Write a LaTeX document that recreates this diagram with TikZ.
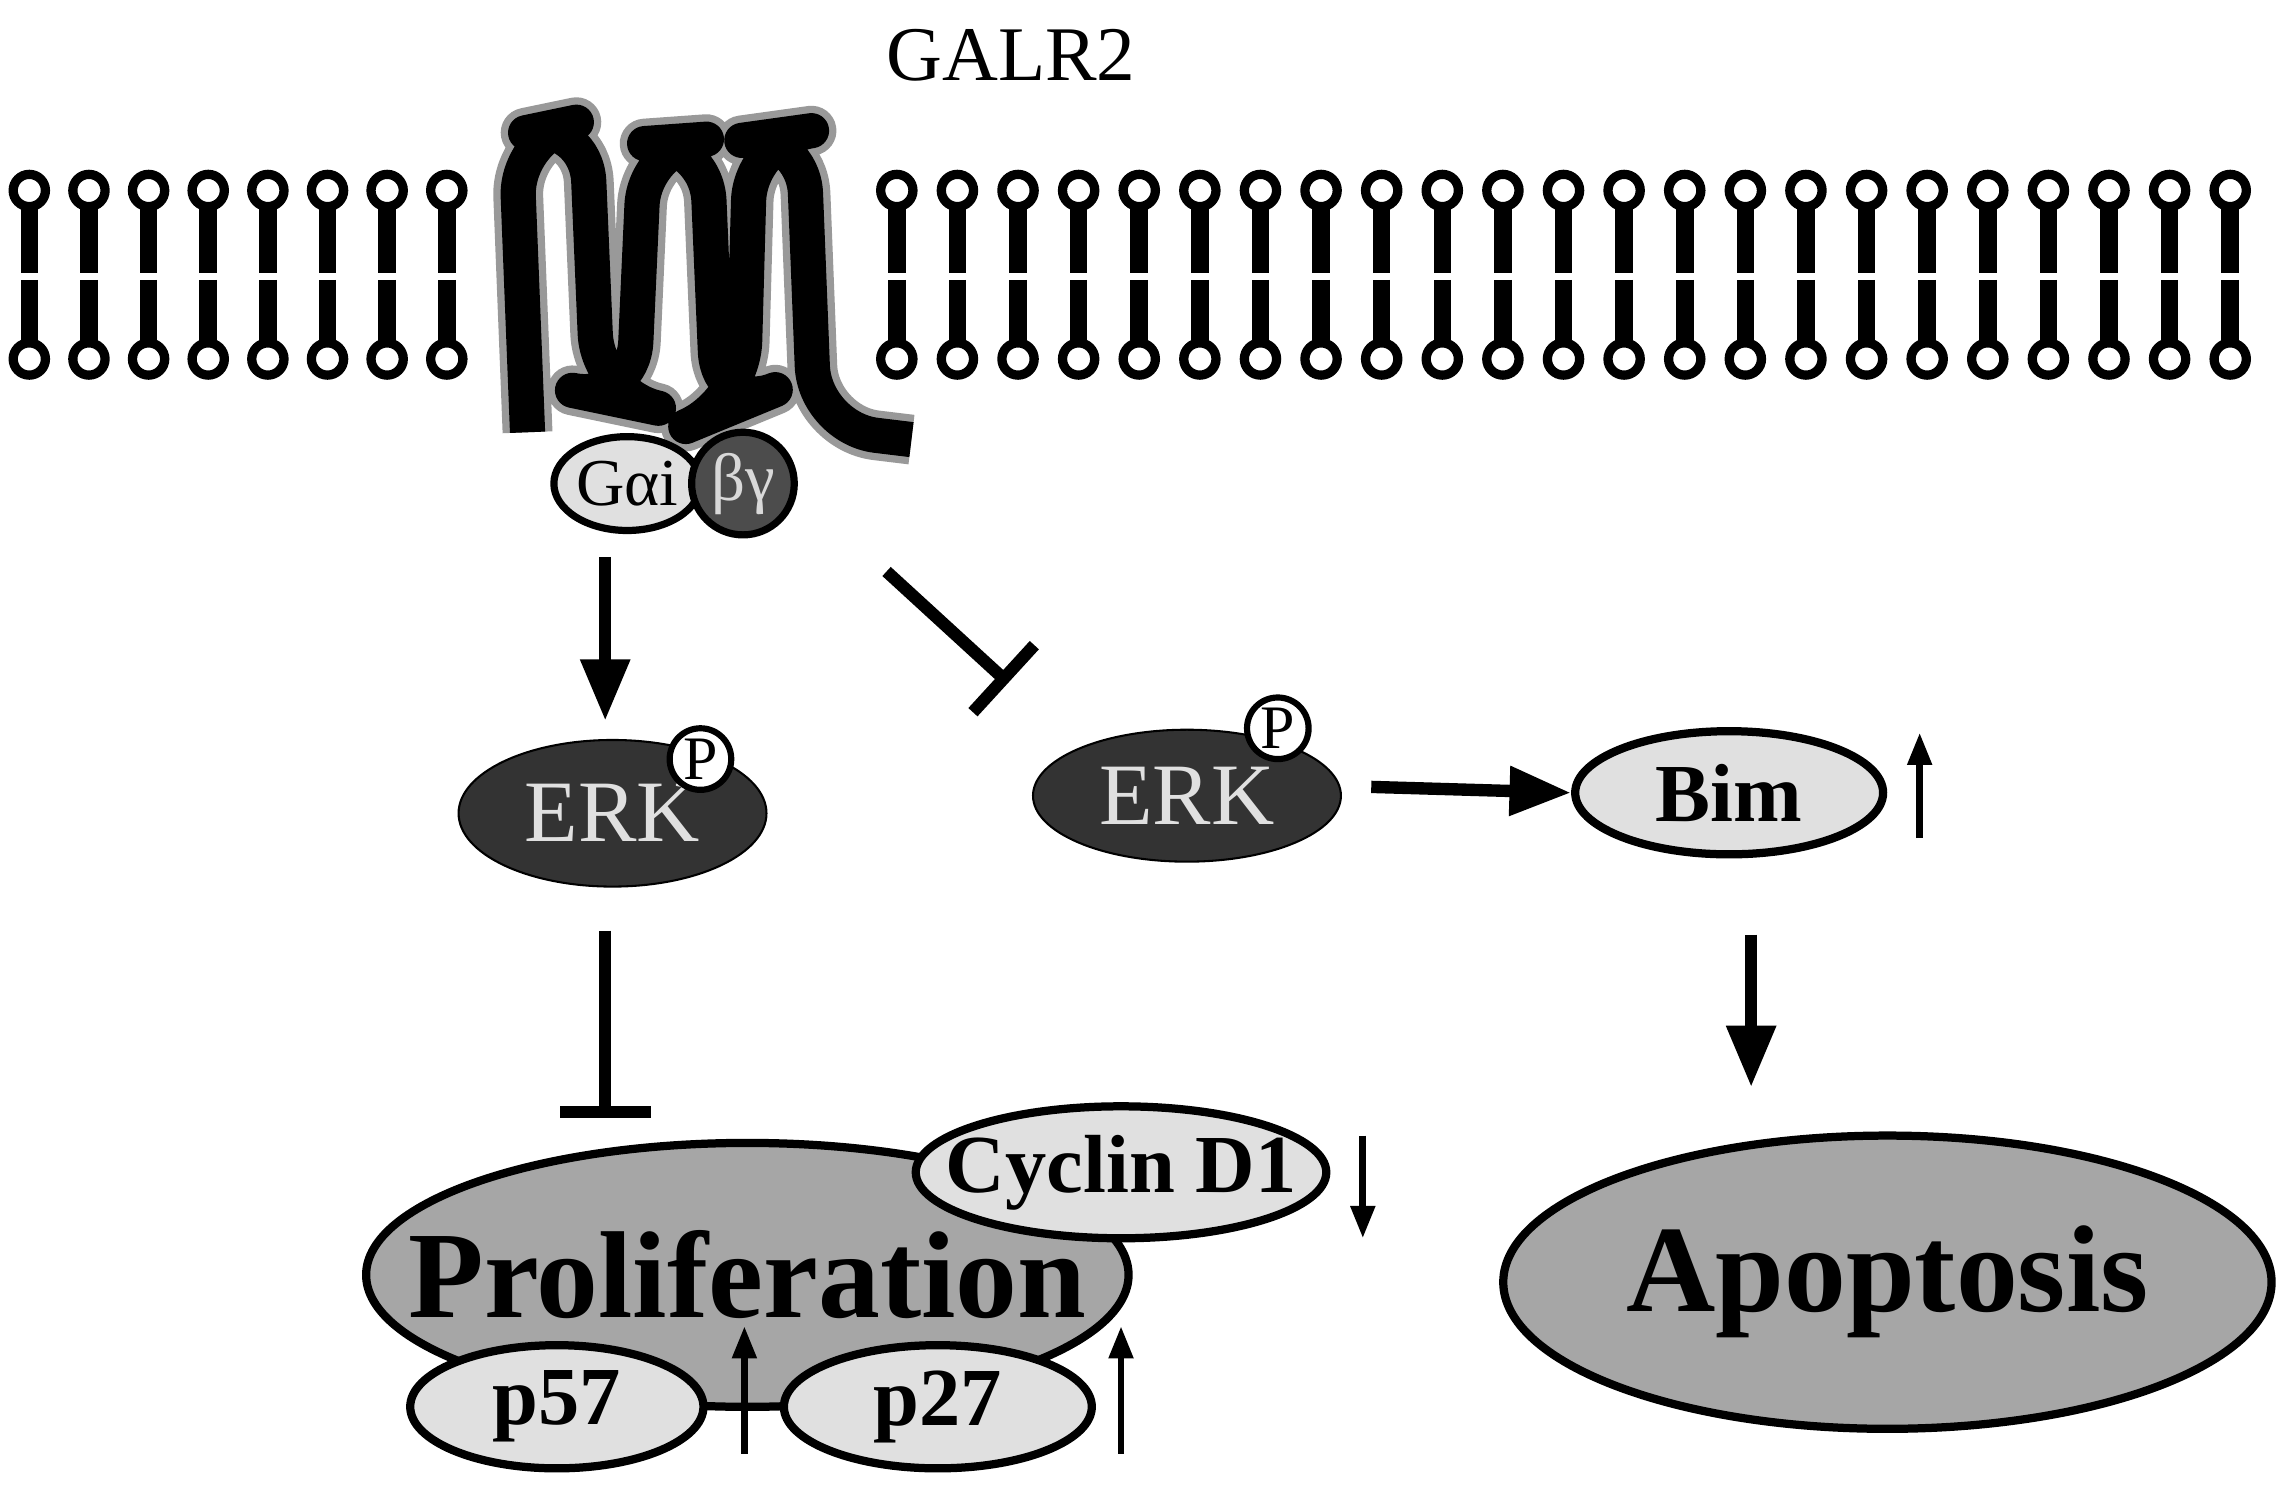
\documentclass[tikz,border=0pt]{standalone}
\usepackage{fontspec}
\setmainfont{Liberation Serif}
\usetikzlibrary{arrows.meta, shapes.geometric}
\begin{document}
\begin{tikzpicture}[x=0.01cm, y=-0.01cm,
    % Global styles
    head/.style={circle, draw=black, line width=1.8pt, fill=white, inner sep=0pt, minimum size=0.22cm},
    tail/.style={line width=3.4pt, black},
    erk/.style={ellipse, draw=black, fill=black!80, text=black!12, inner xsep=-0.2cm, inner ysep=0pt, font=\fontsize{17}{17}\selectfont},
    phos/.style={circle, draw=black, line width=1.2pt, fill=white, inner sep=0pt, minimum size=0.42cm, font=\fontsize{12}{12}\selectfont},
    light/.style={ellipse, draw=black, line width=1.6pt, fill=black!12, inner xsep=-0.3cm, inner ysep=0pt, font=\bfseries\fontsize{16}{16}\selectfont},
    big/.style={ellipse, draw=black, line width=1.6pt, fill=black!35, inner xsep=-0.6cm, inner ysep=0pt, font=\bfseries\fontsize{24}{24}\selectfont},
    act/.style={line width=2.4pt, -{Triangle[length=0.42cm, width=0.32cm]}},
    inh/.style={line width=2.4pt, -{Bar[width=0.62cm]}},
    small/.style={line width=1.3pt, -{Triangle[length=0.22cm, width=0.16cm]}},
    ]
    \useasboundingbox (0,0) rectangle (1560,1013);

    % ===========================
    % MEMBRANE
    % ===========================
    \foreach \i in {0,...,7} {
        \pgfmathsetmacro{\x}{20+40.7*\i}
        \draw[tail] (\x,138) -- (\x,186);
        \draw[tail] (\x,191) -- (\x,237);
        \node[head] at (\x,130) {};
        \node[head] at (\x,245) {};
    }
    \foreach \i in {0,...,22} {
        \pgfmathsetmacro{\x}{612+41.36*\i}
        \draw[tail] (\x,138) -- (\x,186);
        \draw[tail] (\x,191) -- (\x,237);
        \node[head] at (\x,130) {};
        \node[head] at (\x,245) {};
    }

    % Receptor
    \node at (690,38) {\fontsize{15}{15}\selectfont GALR2};
    \draw[line width=0.34cm, black!40, rounded corners=12, line join=round]
        (360,295) -- (352,92) -- (400,82) -- (408,270) -- (432,275) -- (440,98) -- (482,95) -- (490,282) -- (507,275) -- (512,95) -- (548,90) -- (556,292) -- (622,300);
    \draw[line width=0.24cm, black, rounded corners=12, line join=round]
        (360,295) -- (352,92) -- (400,82) -- (408,270) -- (432,275) -- (440,98) -- (482,95) -- (490,282) -- (507,275) -- (512,95) -- (548,90) -- (556,292) -- (622,300);

    % G protein
    \node[ellipse, draw=black, line width=1.4pt, fill=black!12, inner xsep=-0.15cm, inner ysep=0pt, minimum width=1.0cm, minimum height=0.64cm, font=\fontsize{13}{13}\selectfont] (galpha) at (428,330) {Gαi};
    \node[circle, draw=black, line width=1.4pt, fill=black!70, text=black!15, minimum size=0.7cm, inner sep=0pt, font=\fontsize{13}{13}\selectfont] (gbg) at (507,330) {βγ};

    % ===========================
    % LEFT BRANCH
    % ===========================
    \node[erk, minimum width=2.1cm, minimum height=1.0cm] (erk1) at (418,555) {ERK};
    \node[phos] (p1) at (478,518) {P};
    \coordinate (a1) at (413,380);
    \draw[act] (a1) -- (413,492);
    \coordinate (i1) at (413,635);
    \draw[inh] (i1) -- (413,763);

    \node[big, minimum width=5.2cm, minimum height=1.8cm] (prolif) at (510,870) {Proliferation};
    \node[light, minimum width=2.8cm, minimum height=0.9cm] (cyclin) at (765,800) {Cyclin D1};
    \node[light, minimum width=2.0cm, minimum height=0.84cm] (p57) at (380,960) {p57};
    \node[light, minimum width=2.1cm, minimum height=0.84cm] (p27) at (640,960) {p27};
    \draw[small] (930,775) -- (930,845);
    \draw[small] (508,992) -- (508,905);
    \draw[small] (765,992) -- (765,905);

    % ===========================
    % RIGHT BRANCH
    % ===========================
    \coordinate (i2) at (605,390);
    \draw[inh] (i2) -- (688,466);
    \node[erk, minimum width=2.1cm, minimum height=0.9cm] (erk2) at (810,543) {ERK};
    \node[phos] (p2) at (872,497) {P};
    \node[light, minimum width=2.1cm, minimum height=0.84cm] (bim) at (1180,541) {Bim};
    \draw[act] (erk2.east) ++(20,-6) -- (bim.west);
    \draw[small] (1310,572) -- (1310,500);
    \node[big, minimum width=5.24cm, minimum height=2.0cm] (apop) at (1288,875) {Apoptosis};
    \draw[act] (bim.south) ++(15,52) -- (1195,742);
\end{tikzpicture}
\end{document}
